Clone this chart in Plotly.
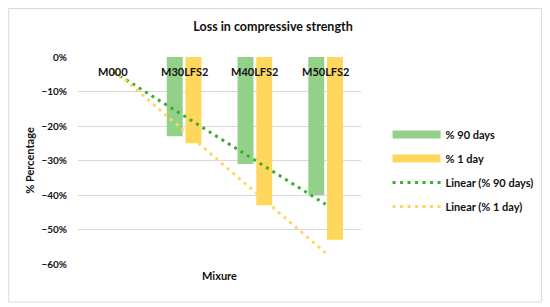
import numpy as np
import plotly.graph_objects as go

# data
mixes = ["M000", "M30LFS2", "M40LFS2", "M50LFS2"]
loss_90_days = [0, -0.23, -0.31, -0.40]
loss_1_day = [0, -0.25, -0.43, -0.53]
y_ticks = [0, -0.1, -0.2, -0.3, -0.4, -0.5, -0.6]

GREEN = "#93d08a"
YELLOW = "#ffd75c"
DOT_GREEN = "#3aae2f"
FONT = "Lato"
BOLD = dict(family=FONT, color="#111", weight="bold")

# Excel-style linear trendlines on category index
idx = np.arange(1, len(mixes) + 1)
fit_90 = np.polyval(np.polyfit(idx, loss_90_days, 1), idx)
fit_1 = np.polyval(np.polyfit(idx, loss_1_day, 1), idx)

fig = go.Figure()
fig.add_trace(go.Bar(x=mixes, y=loss_90_days, name="% 90 days", showlegend=False,
                     marker=dict(color=GREEN, line=dict(width=0))))
fig.add_trace(go.Bar(x=mixes, y=loss_1_day, name="% 1 day", showlegend=False,
                     marker=dict(color=YELLOW, line=dict(width=0))))
fig.add_trace(go.Scatter(x=mixes, y=fit_90, mode="lines", showlegend=False,
                         line=dict(color=DOT_GREEN, width=3, dash="3px,4.5px")))
fig.add_trace(go.Scatter(x=mixes, y=fit_1, mode="lines", showlegend=False,
                         line=dict(color=YELLOW, width=3, dash="3px,4.5px")))

# legend entries (wide bar swatches like Excel)
legend_items = [("% 90 days", GREEN, 8, "solid"), ("% 1 day", YELLOW, 8, "solid"),
                ("Linear (% 90 days)", DOT_GREEN, 3, "3px,4.5px"),
                ("Linear (% 1 day)", YELLOW, 3, "3px,4.5px")]
for i, (name, col, w, dash) in enumerate(legend_items):
    fig.add_trace(go.Scatter(x=[None], y=[None], mode="lines", name=name, legendgroup=str(i),
                             line=dict(color=col, width=w, dash=dash)))

# category labels sit just under the 0% line
for m in mixes:
    fig.add_annotation(x=m, y=0, yref="y", text=m, showarrow=False,
                       yanchor="top", yshift=-6, font=dict(BOLD, size=11))

# outer chart border (page has an 8px body margin)
fig.add_shape(type="rect", xref="paper", yref="paper",
              x0=(0.5 - 70) / 284, x1=(535 - 70) / 284, y0=-(294 - 256) / 207, y1=1 + (49 - 0.5) / 207,
              line=dict(color="#d9d9d9", width=1))

fig.update_layout(
    width=542, height=299,
    margin=dict(l=70, r=188, t=49, b=43),
    paper_bgcolor="white", plot_bgcolor="white",
    barmode="group", bargap=0.47, bargroupgap=0.15,
    title=dict(text="Loss in compressive strength", x=265 / 542, xanchor="center",
               y=1 - 19 / 299, yanchor="middle", font=dict(BOLD, size=12.5)),
    font=dict(family=FONT, color="#111"),
    xaxis=dict(showticklabels=False, showgrid=False, zeroline=False, showline=False,
               automargin=False,
               title=dict(text="Mixure", font=dict(BOLD, size=11), standoff=8)),
    yaxis=dict(range=[-0.6, 0], tickvals=y_ticks, tickformat=".0%", showgrid=True,
               gridcolor="#d9d9d9", gridwidth=1, zeroline=False, showline=False,
               automargin=False, ticklabelstandoff=10, tickfont=dict(BOLD, size=10),
               title=dict(text="% Percentage", font=dict(BOLD, size=11), standoff=4)),
    legend=dict(x=1.09, y=0.696, xanchor="left", yanchor="top", tracegroupgap=5,
                itemwidth=48, font=dict(BOLD, size=11), bgcolor="rgba(0,0,0,0)"),
)

fig.write_html("out.html")
